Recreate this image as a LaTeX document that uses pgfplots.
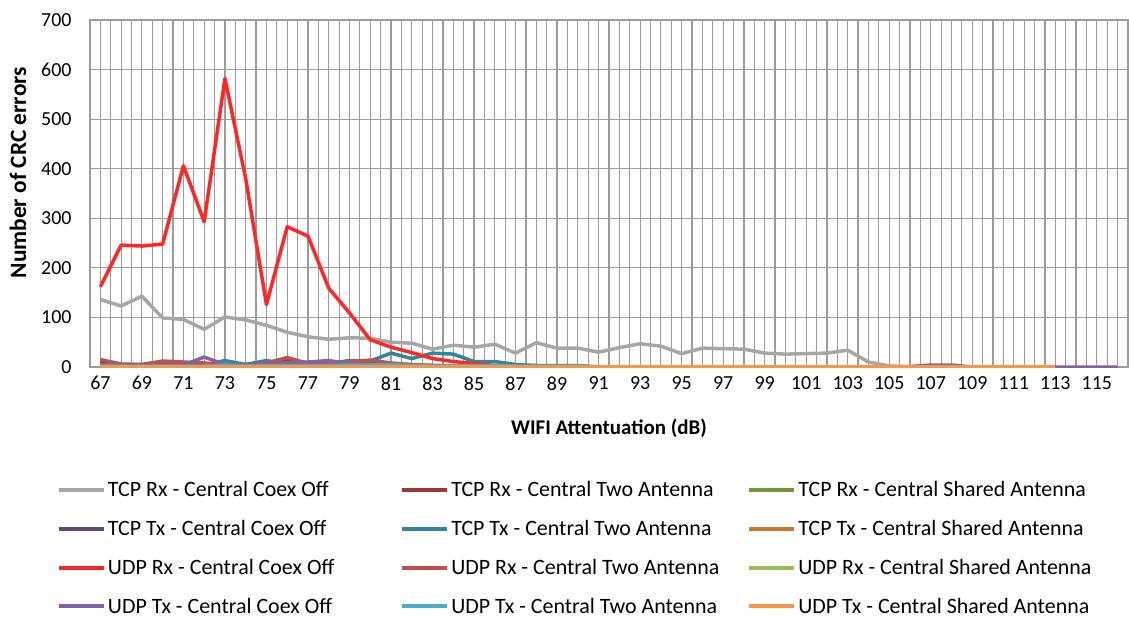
\documentclass[border=0pt]{standalone}
\usepackage{fontspec}
\setmainfont{Carlito}
\usepackage{pgfplots}
\usepackage{pgfplotstable}
\pgfplotsset{compat=1.18}
\definecolor{gridgray}{HTML}{9C9C9C}
\definecolor{c1}{HTML}{A6A6A6}
\definecolor{c2}{HTML}{9B3A37}
\definecolor{c3}{HTML}{77933C}
\definecolor{c4}{HTML}{5F497A}
\definecolor{c5}{HTML}{31859C}
\definecolor{c6}{HTML}{C8782F}
\definecolor{c7}{HTML}{FF2626}
\definecolor{c8}{HTML}{C0504D}
\definecolor{c9}{HTML}{9BBB59}
\definecolor{c10}{HTML}{8064A2}
\definecolor{c11}{HTML}{4BACC6}
\definecolor{c12}{HTML}{F79646}
\pgfplotstableread{
x   s1  s2  s3  s4  s5  s6  s7  s8  s9  s10 s11 s12
67  136 12  0   3   2   0   162 15  0   5   2   0
68  123 5   0   3   2   0   246 6   0   4   2   0
69  143 5   0   3   2   0   244 5   0   4   2   0
70  99  10  0   3   3   0   248 12  0   4   2   0
71  96  9   0   3   3   0   406 10  0   4   2   0
72  76  7   0   5   4   0   293 8   0   20  2   0
73  101 5   0   3   13  0   582 4   0   5   4   0
74  95  5   0   3   5   0   380 4   0   4   2   0
75  84  7   0   3   13  0   126 8   0   6   3   0
76  70  15  0   3   6   0   283 19  0   8   3   0
77  61  8   0   3   8   0   264 7   0   10  3   0
78  56  9   0   3   7   0   159 8   0   13  3   0
79  59  10  0   3   13  0   109 10  0   6   4   0
80  58  12  0   3   12  0   55  14  0   5   4   0
81  50  6   0   3   28  0   40  8   0   4   5   0
82  48  4   0   2   17  0   29  5   0   3   3   0
83  36  3   0   1   28  0   17  3   0   2   3   0
84  44  2   0   0   26  0   11  2   0   2   3   0
85  40  1   0   0   11  0   7   1   0   1   3   0
86  46  0   0   0   11  0   3   0   0   1   3   0
87  28  0   0   0   5   0   0   0   0   0   2   0
88  49  0   0   0   3   0   0   0   0   0   2   0
89  38  0   0   0   3   0   0   0   0   0   2   0
90  38  0   0   0   3   0   0   0   0   0   2   0
91  30  0   0   0   0   0   0   0   0   0   0   0
92  39  0   0   0   0   0   0   0   0   0   0   0
93  47  0   0   0   0   0   0   0   0   0   0   0
94  42  0   0   0   0   0   0   0   0   0   0   0
95  27  0   0   0   0   0   0   0   0   0   0   0
96  38  0   0   0   0   0   0   0   0   0   0   0
97  37  0   0   0   0   0   0   0   0   0   0   0
98  36  0   0   0   0   0   0   0   0   0   0   0
99  28  0   0   0   0   0   0   0   0   0   0   0
100 26  0   0   0   0   0   0   0   0   0   0   0
101 27  0   0   0   0   0   0   0   0   0   0   0
102 28  0   0   0   0   0   0   0   0   0   0   0
103 34  0   0   0   0   0   0   0   0   0   0   0
104 10  0   0   0   0   0   0   0   0   0   0   0
105 2   0   0   0   0   0   0   0   0   1   0   0
106 0   0   0   0   0   0   0   0   0   1   0   0
107 0   0   0   0   0   0   0   0   0   4   0   0
108 0   0   0   0   0   0   0   0   0   4   0   0
109 0   0   0   0   0   0   0   0   0   0   0   0
110 0   0   0   0   0   0   0   0   0   0   0   0
111 0   0   0   0   0   0   0   0   0   0   0   0
112 0   0   0   0   0   0   0   0   0   0   0   0
113 0   0   0   0   0   0   0   0   0   0   0   0
114 nan nan nan nan nan nan nan nan nan 0   nan nan
115 nan nan nan nan nan nan nan nan nan 0   nan nan
116 nan nan nan nan nan nan nan nan nan 0   nan nan
}\datatable
\begin{document}
\begin{tikzpicture}
\path[use as bounding box] (-90bp,-252bp) rectangle (1039bp,367bp);
\begin{axis}[
  at={(0,0)}, anchor=south west,
  width=1038bp, height=347bp, scale only axis,
  xmin=66.5, xmax=116.5, ymin=0, ymax=700,
  xtick={67,69,...,115},
  minor xtick={66.5,67,...,116.5},
  ytick={0,100,...,700},
  xmajorgrids, xminorgrids, ymajorgrids,
  grid style={draw=gridgray, line width=1.2bp},
  minor grid style={draw=gridgray, line width=1.2bp},
  axis line style={draw=gridgray, line width=1.2bp},
  major tick length=0pt, minor tick length=0pt,
  tick label style={font=\fontsize{20}{24}\selectfont, text=black},
  /pgf/number format/assume math mode=true,
  yticklabel style={xshift=-15bp},
  xticklabel style={yshift=-6bp},
  xlabel={WIFI Attentuation (dB)},
  ylabel={Number of CRC errors},
  xlabel style={font=\bfseries\fontsize{21}{24}\selectfont, at={(axis description cs:0.5,0)}, anchor=base, yshift=-67bp},
  ylabel style={font=\bfseries\fontsize{23.5}{26}\selectfont, at={(axis description cs:-0.0694,0.56)}, anchor=center},
  every axis plot/.append style={line width=3.5bp, line join=round},
  legend columns=3,
  legend cell align=left,
  legend image code/.code={\draw[#1, line width=4bp] (0bp,0bp) -- (45bp,0bp);},
  legend style={
    draw=none, fill=none, inner sep=0pt, outer sep=0pt,
    at={(axis description cs:-0.0318,-0.325)}, anchor=north west,
    font=\fontsize{22}{24}\selectfont,
    row sep=18bp,
    nodes={inner sep=2bp},
    /tikz/every odd column/.append style={column sep=0bp},
    /tikz/column 2/.style={column sep=64bp},
    /tikz/column 4/.style={column sep=26bp},
  },
]
\addplot[c1]  table[x=x,y=s1]  {\datatable};
\addlegendentry{TCP Rx - Central Coex Off}
\addplot[c2]  table[x=x,y=s2]  {\datatable};
\addlegendentry{TCP Rx - Central Two Antenna}
\addplot[c3]  table[x=x,y=s3]  {\datatable};
\addlegendentry{TCP Rx - Central Shared Antenna}
\addplot[c4]  table[x=x,y=s4]  {\datatable};
\addlegendentry{TCP Tx - Central Coex Off}
\addplot[c5]  table[x=x,y=s5]  {\datatable};
\addlegendentry{TCP Tx - Central Two Antenna}
\addplot[c6]  table[x=x,y=s6]  {\datatable};
\addlegendentry{TCP Tx - Central Shared Antenna}
\addplot[c7]  table[x=x,y=s7]  {\datatable};
\addlegendentry{UDP Rx - Central Coex Off}
\addplot[c8]  table[x=x,y=s8]  {\datatable};
\addlegendentry{UDP Rx - Central Two Antenna}
\addplot[c9]  table[x=x,y=s9]  {\datatable};
\addlegendentry{UDP Rx - Central Shared Antenna}
\addplot[c10] table[x=x,y=s10] {\datatable};
\addlegendentry{UDP Tx - Central Coex Off}
\addplot[c11] table[x=x,y=s11] {\datatable};
\addlegendentry{UDP Tx - Central Two Antenna}
\addplot[c12] table[x=x,y=s12] {\datatable};
\addlegendentry{UDP Tx - Central Shared Antenna}
\end{axis}
\end{tikzpicture}
\end{document}
